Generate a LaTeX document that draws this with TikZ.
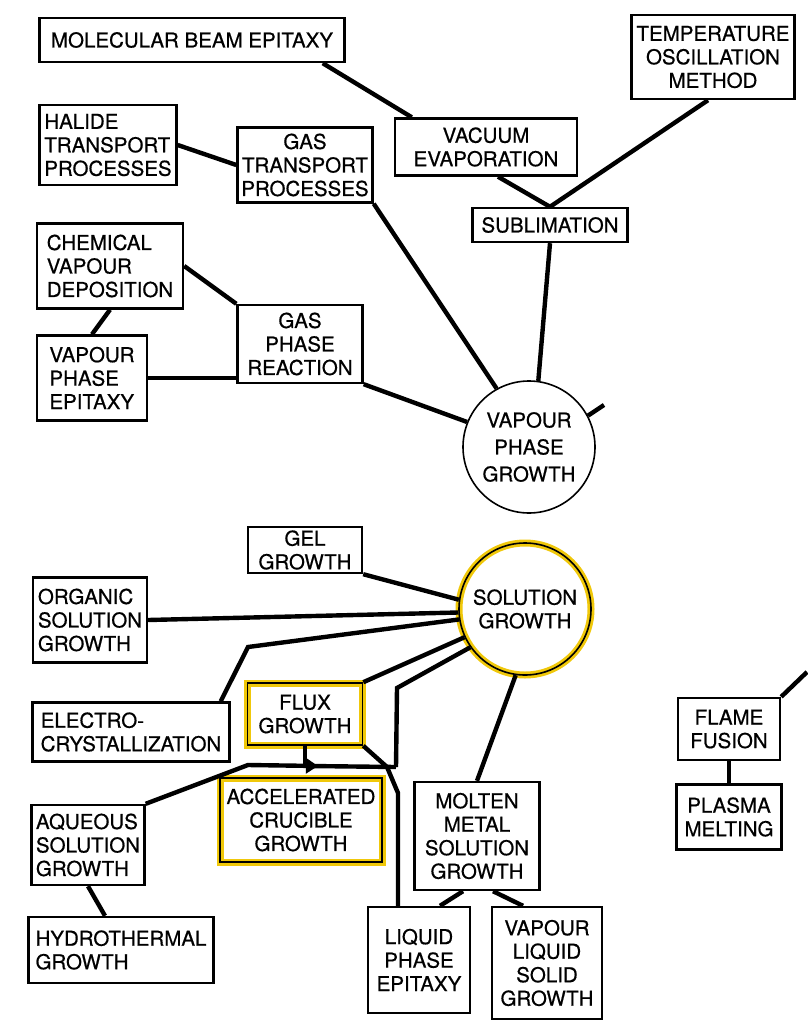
\documentclass[tikz,border=0pt]{standalone}
\usepackage{fontspec}
\setmainfont{TeX Gyre Heros}[FakeBold=0.6]
\usetikzlibrary{arrows.meta}
\definecolor{hlyellow}{RGB}{240,200,10}
\tikzset{
method/.style={
	draw, rectangle, line width=2.4pt, inner sep=2pt, align=center,
	font=\fontsize{20.5}{23.5}\selectfont},
methodl/.style={method, align=left},
growth/.style={
	draw, circle, line width=1.6pt, inner sep=0pt, minimum size=132pt,
	align=center, font=\fontsize{20.5}{27}\selectfont},
marked/.style={line width=1.6pt, preaction={draw=hlyellow, line width=7pt}},
link/.style={line width=4.4pt}
}

\begin{document}
\begin{tikzpicture}[x=1pt, y=-1pt]
	\useasboundingbox (0,0) rectangle (807,1022);
	% vapour phase
	\node[method, minimum width=305pt, minimum height=44pt] (mbe) at (192,40) {MOLECULAR BEAM EPITAXY};
	\node[methodl, minimum width=137pt, minimum height=80pt] (halide) at (108,145) {HALIDE\\TRANSPORT\\PROCESSES};
	\node[method, minimum width=135pt, minimum height=75pt] (gastr) at (305,165) {GAS\\TRANSPORT\\PROCESSES};
	\node[methodl, minimum width=146pt, minimum height=85pt] (cvd) at (110,266) {CHEMICAL\\VAPOUR\\DEPOSITION};
	\node[methodl, minimum width=110pt, minimum height=85pt] (vpe) at (92,378) {VAPOUR\\PHASE\\EPITAXY};
	\node[method, minimum width=125pt, minimum height=78pt] (gpr) at (300,344) {GAS\\PHASE\\REACTION};
	\node[method, minimum width=182pt, minimum height=57pt] (vac) at (486,147) {VACUUM\\EVAPORATION};
	\node[method, minimum width=163pt, minimum height=84pt] (temp) at (713,57) {TEMPERATURE\\OSCILLATION\\METHOD};
	\node[method, minimum width=155pt, minimum height=34pt] (subl) at (550,225) {SUBLIMATION};
	\node[growth] (vpg) at (529,447) {VAPOUR\\PHASE\\GROWTH};
	\coordinate (vpgout) at (604,405);
	% solution
	\node[method, minimum width=114pt, minimum height=46pt] (gel) at (305,550) {GEL\\GROWTH};
	\node[methodl, minimum width=114pt, minimum height=85pt] (org) at (90,620) {ORGANIC\\SOLUTION\\GROWTH};
	\node[methodl, minimum width=197pt, minimum height=59pt] (elec) at (131,732) {ELECTRO-\\CRYSTALLIZATION};
	\node[method, marked, minimum width=115pt, minimum height=62pt] (flux) at (305,714) {FLUX\\GROWTH};
	\node[method, marked, minimum width=162pt, minimum height=84pt] (acg) at (301,820) {ACCELERATED\\CRUCIBLE\\GROWTH};
	\node[methodl, minimum width=113pt, minimum height=80pt] (aqu) at (88,845) {AQUEOUS\\SOLUTION\\GROWTH};
	\node[methodl, minimum width=185pt, minimum height=66pt] (hydro) at (121,950) {HYDROTHERMAL\\GROWTH};
	\node[method, minimum width=102pt, minimum height=106pt] (lpe) at (419,960) {LIQUID\\PHASE\\EPITAXY};
	\node[method, minimum width=110pt, minimum height=112pt] (vls) at (547,963) {VAPOUR\\LIQUID\\SOLID\\GROWTH};
	\node[method, minimum width=125pt, minimum height=108pt] (molten) at (477,836) {MOLTEN\\METAL\\SOLUTION\\GROWTH};
	\node[growth, marked, font=\fontsize{20.5}{23.5}\selectfont] (sol) at (525,609) {SOLUTION\\GROWTH};
	\coordinate (jn) at (396,767);
	\coordinate (lpebend) at (398,793);
	% melt
	\node[method, minimum width=102pt, minimum height=62pt] (flame) at (729,729) {FLAME\\FUSION};
	\node[method, minimum width=105pt, minimum height=65pt] (plasma) at (729,817) {PLASMA\\MELTING};
	\coordinate (flameout) at (807,672);

	\draw[link] ([xshift=-23pt]mbe.south east) -- ([xshift=18pt]vac.north west);
	\draw[link] (halide.east) -- (gastr.west);
	\draw[link] (gastr.south east) -- (vpg.119);
	\draw[link] (cvd.east) -- (gpr.north west);
	\draw[link] (vpe.east) -- (vpe.east -| gpr.west);
	\draw[link] (cvd.south) -- (vpe.north);
	\draw[link] (gpr.south east) -- (vpg.158);
	\draw[link] ([xshift=12pt]vac.south) -- (subl.north);
	\draw[link] ([xshift=-5pt]temp.south) -- (subl.north);
	\draw[link] (subl.south) -- (vpg.82);
	\draw[link] (vpg.28) -- (vpgout);

	\draw[link] (gel.south east) -- (sol.172);
	\draw[link] (org.east) -- (sol.183);
	\draw[link] ([xshift=-10pt]elec.north east) -- (248,647) -- (sol.189);
	\draw[link] (flux.north east) -- (sol.205);
	\draw[link] (sol.215) -- (397,688) -- (jn);
	\draw[link, -{Triangle[length=12pt,width=15pt]}] (aqu.north east) -- (248,765) -- (318,766);
	\draw[link] (310,766) -- (jn);
	\draw[link] (flux.south) -- (305,764);
	\draw[link] (flux.south east) -- (387,767) -- (lpebend) -- (lpebend |- lpe.north);
	\draw[link] (molten.north) -- (sol.262);
	\draw[link] ([xshift=-14pt]molten.south) -- ([xshift=21pt]lpe.north);
	\draw[link] ([xshift=16pt]molten.south) -- ([xshift=-24pt]vls.north);
	\draw[link] (aqu.south) -- ([xshift=-16pt]hydro.north);

	\draw[link] (flame.south) -- (plasma.north);
	\draw[link] (flame.north east) -- (flameout);
\end{tikzpicture}
\end{document}
